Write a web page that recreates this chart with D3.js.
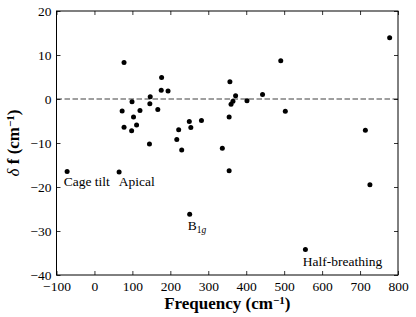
<!DOCTYPE html>
<html lang="en">
<head>
<meta charset="UTF-8">
<title>delta f vs frequency</title>
<script src="https://cdn.jsdelivr.net/npm/d3@7"></script>
<style>
    body{ margin:0; background:#fff; }
    svg{ position:absolute; left:0px; top:0px; }
    text{ font-family:"Liberation Serif", "DejaVu Serif", serif; }
</style>
</head>
<body>
<svg id="chart" width="416" height="317"></svg>
<script>
    // mode frequencies (cm^-1) and shifts delta f (cm^-1)
    var freq  = [-72, 65, 73, 78, 78, 98, 99, 103, 111, 120, 145, 146, 147, 167, 176, 177, 194,
                 217, 222, 230, 250, 251, 254, 282, 337, 355, 355, 357, 360, 365, 372, 402, 443,
                 491, 503, 556, 714, 726, 778]
    var shift = [-16.5, -16.6, -2.7, 8.3, -6.4, -7.2, -0.6, -4.1, -5.9, -2.6, -10.2, -1.1, 0.5, -2.4, 2.0, 4.9, 1.8,
                 -9.2, -7.0, -11.6, -5.1, -26.2, -6.5, -4.9, -11.2, -4.1, -16.3, 3.9, -1.2, -0.5, 0.75, -0.4, 1.0,
                 8.7, -2.8, -34.2, -7.1, -19.5, 13.9]

    var xTicks = [-100, 0, 100, 200, 300, 400, 500, 600, 700, 800]
    var yTicks = [-40, -30, -20, -10, 0, 10, 20]

    // annotation texts and where they sit (data coords, baseline)
    var labelText = ["Cage tilt", "Apical", "B", "Half-breathing"]
    var labelX    = [-81, 64, 246, 549]
    var labelY    = [-19.8, -19.8, -29.8, -38]

    var svg = d3.select("#chart")
    var pL = 56.5, pR = 398, pT = 11, pB = 275

    var x = d3.scaleLinear().domain([-100, 800]).range([pL, pR])
    var y = d3.scaleLinear().domain([-40, 20]).range([pB, pT])

    // zero line
    svg.append("line")
        .attr("x1", x(-100)).attr("x2", x(800))
        .attr("y1", y(0)).attr("y2", y(0))
        .attr("stroke", "#808080")
        .attr("stroke-width", 1.5)
        .style("stroke-dasharray", "5.5 2.5")

    // axes, ticks pointing inward on all four sides
    var fmt = function(d){ return d < 0 ? "\u2212" + Math.abs(d) : "" + d }

    svg.append("g").attr("transform", "translate(0," + pB + ")")
        .call(d3.axisBottom(x).tickValues(xTicks).tickFormat(fmt).tickSizeInner(-4).tickSizeOuter(0).tickPadding(6))
    svg.append("g").attr("transform", "translate(0," + pT + ")")
        .call(d3.axisTop(x).tickValues(xTicks).tickFormat("").tickSizeInner(-4).tickSizeOuter(0))
    svg.append("g").attr("transform", "translate(" + pL + ",0)")
        .call(d3.axisLeft(y).tickValues(yTicks).tickFormat(fmt).tickSizeInner(-4).tickSizeOuter(0).tickPadding(5))
    svg.append("g").attr("transform", "translate(" + pR + ",0)")
        .call(d3.axisRight(y).tickValues(yTicks).tickFormat("").tickSizeInner(-4).tickSizeOuter(0))

    svg.selectAll(".domain").remove()
    svg.selectAll(".tick line").attr("stroke", "#000").attr("stroke-width", 0.8)
    svg.selectAll(".tick text").attr("font-family", "Liberation Serif").attr("font-size", 13.5).attr("fill", "#000")

    // frame
    svg.append("rect")
        .attr("x", pL).attr("y", pT)
        .attr("width", pR - pL).attr("height", pB - pT)
        .attr("fill", "none").attr("stroke", "#000").attr("stroke-width", 1)

    // points
    svg.selectAll("circle.pt")
        .data(freq)
        .enter().append("circle")
        .attr("class", "pt")
        .attr("cx", function(d){ return x(d) })
        .attr("cy", function(d, i){ return y(shift[i]) })
        .attr("r", 2.5)
        .attr("fill", "#000")

    // annotations
    labelText.forEach(function(t, i){
        var txt = svg.append("text")
            .attr("x", x(labelX[i])).attr("y", y(labelY[i]))
            .attr("font-size", 13.5)
            .text(t)
        if (t == "B") {
            txt.append("tspan").attr("font-size", 9.5).attr("dy", 3).text("1")
            txt.append("tspan").attr("font-size", 9.5).attr("font-style", "italic").text("g")
        }
    })

    // axis titles
    var xl = svg.append("text")
        .attr("x", (pL + pR) / 2).attr("y", 309)
        .attr("text-anchor", "middle")
        .attr("font-size", 17).attr("font-weight", "bold")
        .text("Frequency (cm")
    xl.append("tspan").attr("dy", -5).attr("font-size", 11).text("\u22121")
    xl.append("tspan").attr("dy", 5).text(")")

    var yl = svg.append("text")
        .attr("transform", "translate(19," + ((pT + pB) / 2) + ") rotate(-90)")
        .attr("text-anchor", "middle")
        .attr("font-size", 17).attr("font-weight", "bold")
    yl.append("tspan").attr("font-style", "italic").attr("font-weight", "normal").text("\u03b4")
    yl.append("tspan").text(" f (cm")
    yl.append("tspan").attr("dy", -5).attr("font-size", 11).text("\u22121")
    yl.append("tspan").attr("dy", 5).text(")")
</script>
</body>
</html>
